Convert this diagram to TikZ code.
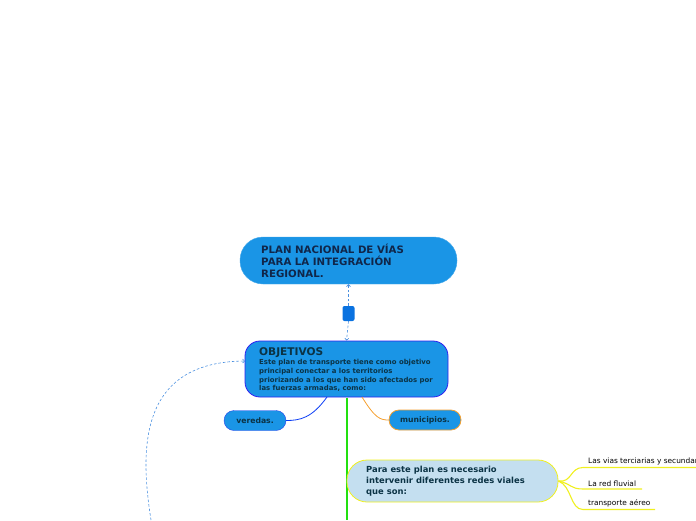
\documentclass[tikz,border=0pt]{standalone}
\usepackage{fontspec}
\setmainfont{DejaVu Sans}
\usetikzlibrary{arrows.meta}
\definecolor{nodeblue}{HTML}{1A95E6}
\definecolor{sqblue}{HTML}{0A72E0}
\definecolor{navy}{HTML}{10264A}
\definecolor{tealtxt}{HTML}{0B3345}
\definecolor{borderblue}{HTML}{3020F0}
\definecolor{orangeb}{HTML}{F5A030}
\definecolor{lightb}{HTML}{C4DFF0}
\definecolor{yel}{HTML}{F0F020}
\definecolor{grn}{HTML}{22E010}
\definecolor{dashcol}{HTML}{4A90E0}
\tikzset{
  mainbox/.style={draw=nodeblue!80!white, fill=nodeblue, rounded corners=23pt, minimum width=217pt, minimum height=47pt, inner sep=0pt},
  objbox/.style={draw=borderblue, line width=0.8pt, fill=nodeblue, rounded corners=15pt, minimum width=203pt, minimum height=56pt, inner sep=0pt},
  pill/.style={fill=nodeblue, rounded corners=10pt, minimum height=20pt, inner sep=0pt, font=\fontsize{7.7}{9}\selectfont\bfseries, text=tealtxt},
  needbox/.style={draw=yel, line width=0.8pt, fill=lightb, rounded corners=20pt, minimum width=211pt, minimum height=42pt, inner sep=0pt},
  dashline/.style={draw=dashcol, dash pattern=on 2.5pt off 2pt, line width=0.6pt},
  itemtxt/.style={font=\fontsize{7.4}{8}\selectfont, text=black, anchor=south west, inner sep=1pt},
  itemline/.style={yel, line width=1.1pt}
}
\begin{document}
\begin{tikzpicture}[x=1pt,y=-1pt]
\useasboundingbox (0,0) rectangle (696,520);
\clip (0,0) rectangle (696,520);
% top node
\node[mainbox] (plan) at (348.5,260.5) {};
\node[anchor=north west, inner sep=0pt, align=left, text=navy, font=\fontsize{10.2}{12}\selectfont\bfseries] (plantxt) at (261,243.5) {PLAN NACIONAL DE VÍAS\\PARA LA INTEGRACIÓN\\REGIONAL.};
% square
\node[fill=sqblue, rounded corners=2pt, minimum width=12pt, minimum height=15pt, inner sep=0pt] (sq) at (348.5,313.5) {};
% objetivos
\node[objbox] (obj) at (346.5,369) {};
\node[anchor=north west, inner sep=0pt, text=tealtxt, font=\fontsize{10.6}{11}\selectfont\bfseries] (objt) at (259,347.5) {OBJETIVOS};
\node[anchor=north west, inner sep=0pt, align=left, text=tealtxt, font=\fontsize{6.9}{8.8}\selectfont\bfseries] (objb) at (259,359) {Este plan de transporte tiene como objetivo\\principal conectar a los territorios\\priorizando a los que han sido afectados por\\las fuerzas armadas, como:};
\draw[dashline, -{Straight Barb[length=2pt,width=4pt]}] (sq.north) -- (plan.south);
\draw[dashline, -{Straight Barb[length=2pt,width=4pt]}] (sq.south) -- (obj.north);
% veredas, municipios
\node[pill, draw=borderblue!70!nodeblue, minimum width=62pt] (ver) at (255,420.5) {veredas.};
\node[pill, draw=orangeb, line width=0.8pt, minimum width=72pt] (mun) at (425,420) {municipios.};
\coordinate (o1) at (327,397);
\coordinate (o2) at (362,397);
\draw[color=blue!60!nodeblue, line width=0.8pt] (o1) .. controls (312,418) and (300,420.5) .. (ver.east);
\draw[orangeb, line width=0.8pt] (o2) .. controls (375,418) and (380,420) .. (mun.west);
% green line
\coordinate (g1) at (347,397.5);
\coordinate (g2) at (347,520);
\draw[grn, line width=2pt] (g1) -- (g2);
% need box
\node[needbox] (need) at (452.5,481) {};
\node[anchor=north west, inner sep=0pt, align=left, text=tealtxt, font=\fontsize{8.4}{11}\selectfont\bfseries] (needt) at (366,466) {Para este plan es necesario\\intervenir diferentes redes viales\\que son:};
% items
\coordinate (i1a) at (583,467.5); \coordinate (i1b) at (696,467.5);
\coordinate (i2a) at (583,489); \coordinate (i2b) at (642,489);
\coordinate (i3a) at (583,509.5); \coordinate (i3b) at (655,509.5);
\draw[itemline] (need.east) .. controls (572,483) and (570,467.5) .. (i1a) -- (i1b);
\draw[itemline] (need.east) .. controls (572,484) and (570,489) .. (i2a) -- (i2b);
\draw[itemline] (need.east) .. controls (572,486) and (570,509.5) .. (i3a) -- (i3b);
\node[itemtxt] (t1) at (587,466.5) {Las vias terciarias y secundarias};
\node[itemtxt] (t2) at (587,487.5) {La red fluvial};
\node[itemtxt] (t3) at (587,508.5) {transporte aéreo};
% dashed curve
\coordinate (dc) at (151,520);
\coordinate (ol) at (245,361);
\draw[dashline, -{Straight Barb[length=2pt,width=4pt]}] (dc) .. controls (140,450) and (138,362) .. (ol);
\end{tikzpicture}
\end{document}
